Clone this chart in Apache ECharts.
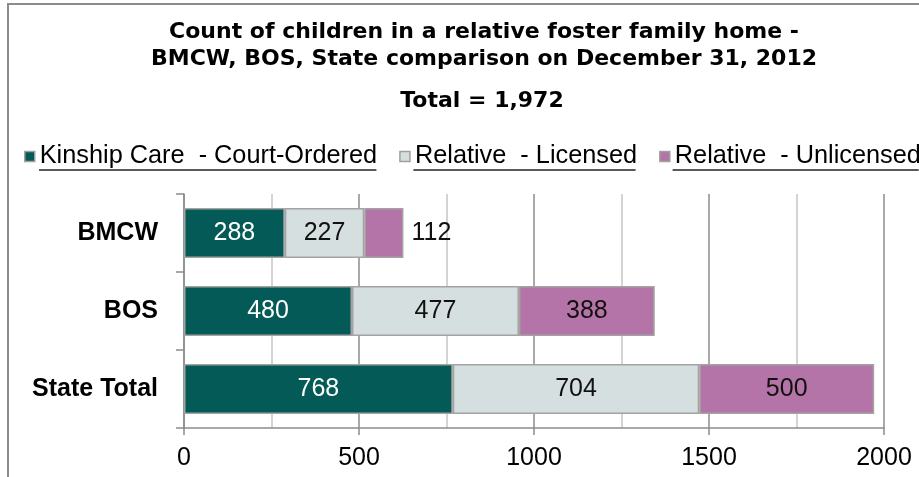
<!DOCTYPE html>
<html>
<head>
<meta charset="utf-8">
<script src="https://cdn.jsdelivr.net/npm/echarts@6/dist/echarts.min.js"></script>
<style>
  html, body { margin: 0; padding: 0; background: #fff; }
  #chart { width: 919px; height: 477px; }
</style>
</head>
<body>
<div id="chart"></div>
<script>
  const categories = ['BMCW', 'BOS', 'State Total']
  const seriesNames = ['Kinship Care  - Court-Ordered', 'Relative  - Licensed', 'Relative  - Unlicensed']
  const kinship = [288, 480, 768]
  const licensed = [227, 477, 704]
  const unlicensed = [112, 388, 500]
  const xTicks = [0, 500, 1000, 1500, 2000]
  const titleLines = [
    'Count of children in a relative foster family home -',
    'BMCW, BOS, State comparison on December 31, 2012',
  ]
  const totalText = 'Total = 1,972'

  const colors = ['#045a56', '#d6dfdf', '#b574a7']
  const labelColors = ['#ffffff', '#111111', '#111111']
  const FONT = '"Liberation Sans", Arial, sans-serif'
  const TITLE_FONT = '"DejaVu Sans", sans-serif'
  const legendSize = 25.3

  // legend underline positions (measured, ECharts puts text 5px after icon)
  const legendLeft = 24
  const legendGap = 22
  const ctx = document.createElement('canvas').getContext('2d')
  ctx.font = legendSize + 'px ' + FONT
  let underline = []
  let x = legendLeft
  seriesNames.forEach(function (n) {
    const w = ctx.measureText(n).width
    underline.push({
      type: 'line',
      silent: true,
      shape: { x1: x + 15, y1: 170, x2: x + 15 + w, y2: 170 },
      style: { stroke: '#222', lineWidth: 1.5 },
    })
    x += 15 + w + legendGap
  })

  function makeSeries(i, values) {
    return {
      name: seriesNames[i],
      type: 'bar',
      stack: 'total',
      barWidth: 50,
      itemStyle: { color: colors[i], borderColor: '#a3a3a3', borderWidth: 1.5 },
      label: {
        show: true,
        position: 'inside',
        color: labelColors[i],
        fontFamily: FONT,
        fontSize: 25,
      },
      data: values.map(function (v, k) {
        // small last segment: label sits outside the bar
        if (i === 2 && k === 0) {
          return { value: v, label: { position: 'right', distance: 8 } }
        }
        return v
      }),
    }
  }

  let chart = echarts.init(document.getElementById('chart'))
  chart.setOption({
    animation: false,
    title: [
      {
        text: titleLines.join('\n'),
        left: 484,
        top: 19,
        padding: 0,
        textAlign: 'center',
        textStyle: {
          fontFamily: TITLE_FONT,
          fontWeight: 'bold',
          fontSize: 22,
          lineHeight: 27,
          color: '#000',
        },
      },
      {
        text: totalText,
        left: 482,
        top: 90,
        padding: 0,
        textAlign: 'center',
        textStyle: {
          fontFamily: TITLE_FONT,
          fontWeight: 'bold',
          fontSize: 22,
          color: '#000',
        },
      },
    ],
    legend: {
      data: seriesNames,
      left: legendLeft,
      top: 144,
      width: 1400,
      padding: 0,
      itemGap: legendGap,
      itemWidth: 10,
      itemHeight: 10,
      icon: 'rect',
      itemStyle: { borderColor: '#a0a0a0', borderWidth: 1.5 },
      textStyle: { fontFamily: FONT, fontSize: legendSize, color: '#000' },
    },
    grid: { left: 184, right: 35, top: 194, bottom: 49, containLabel: false },
    xAxis: {
      type: 'value',
      min: xTicks[0],
      max: xTicks[xTicks.length - 1],
      interval: 500,
      axisLine: { show: true, lineStyle: { color: '#8c8c8c', width: 1.5 } },
      axisTick: { show: true, length: 7, lineStyle: { color: '#8c8c8c', width: 1.5 } },
      axisLabel: {
        fontFamily: FONT,
        fontSize: 25,
        color: '#000',
        margin: 18,
        formatter: function (v) { return String(v) },
      },
      splitLine: { show: true, lineStyle: { color: '#8c8c8c', width: 1.5 } },
      minorTick: { show: false, splitNumber: 2 },
      minorSplitLine: { show: true, lineStyle: { color: '#c6c6c6', width: 1.5 } },
    },
    yAxis: {
      type: 'category',
      data: categories,
      inverse: true,
      axisLine: { show: true, lineStyle: { color: '#8c8c8c', width: 1.5 } },
      axisTick: { show: true, length: 8, lineStyle: { color: '#8c8c8c', width: 1.5 } },
      axisLabel: {
        fontFamily: FONT,
        fontSize: 25,
        fontWeight: 'bold',
        color: '#000',
        margin: 26,
      },
    },
    series: [makeSeries(0, kinship), makeSeries(1, licensed), makeSeries(2, unlicensed)],
    graphic: [
      {
        type: 'rect',
        silent: true,
        shape: { x: 8, y: 4, width: 1000, height: 1000 },
        style: { fill: 'none', stroke: '#8c8c8c', lineWidth: 2 },
      },
    ].concat(underline),
  })
</script>
</body>
</html>
